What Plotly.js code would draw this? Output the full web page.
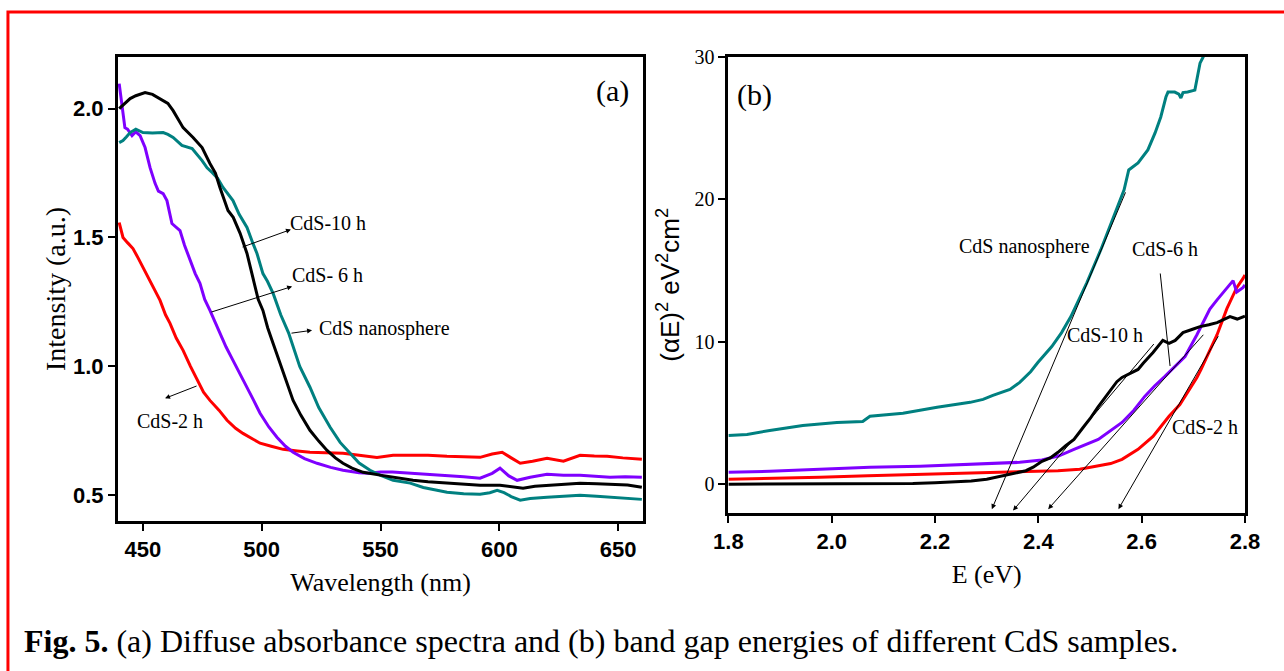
<!DOCTYPE html>
<html>
<head>
<meta charset="utf-8">
<script src="https://cdn.plot.ly/plotly-3.0.1.min.js"></script>
<style>html,body{margin:0;padding:0;background:#fff;}#chart{width:1284px;height:671px;}</style>
</head>
<body>
<div id="chart"></div>
<script>
// ---------- Panel (a): diffuse absorbance spectra ----------
const wl10 = [440,444.6,447,450.9,454,457.2,460.5,462.7,466.9,471.1,474.9,478.2,480.5,482.4,485.8,488,490.9,493.8,496.3,498.5,500.5,502.5,504.8,507,509,511,513.2,516.5,520.3,524,527.5,531,534.2,538,542.7,549.8,555.3,563.7,570,578,585,591.9,600.3,605,610,615,620.1,627,634,641,647.9,654,660];
const int10 = [2.00,2.039,2.05,2.062,2.055,2.039,2.02,1.992,1.926,1.888,1.849,1.787,1.75,1.694,1.605,1.578,1.516,1.438,1.345,1.26,1.217,1.15,1.089,1.03,0.973,0.92,0.868,0.81,0.752,0.71,0.674,0.645,0.624,0.605,0.589,0.578,0.57,0.558,0.552,0.547,0.543,0.539,0.539,0.533,0.527,0.535,0.539,0.543,0.547,0.545,0.543,0.54,0.531];

const wlNano = [440,441.6,443,444.6,447,450,454,458.5,460.5,462.7,466.4,468.5,470.7,474.9,477,479.1,481.4,483.7,487.9,490.5,493.8,496.3,498,500.5,502.4,504.8,508,511.3,512.8,516,520.3,524,528.8,533,537.2,541,545.6,549.8,555.3,562.5,568,573,578,585,591.9,596,599.1,602,605,608.8,613,620.1,627,634,641,647.9,654,660];
const intNano = [1.868,1.876,1.89,1.907,1.92,1.907,1.905,1.907,1.90,1.888,1.857,1.85,1.845,1.798,1.77,1.752,1.73,1.694,1.643,1.59,1.539,1.477,1.438,1.36,1.33,1.283,1.20,1.13,1.089,1.0,0.919,0.84,0.764,0.705,0.663,0.625,0.597,0.578,0.558,0.547,0.53,0.52,0.512,0.506,0.504,0.51,0.519,0.51,0.495,0.481,0.487,0.492,0.496,0.5,0.496,0.492,0.488,0.484];

const wl2 = [440,441.6,443.5,445.8,448,450,453,455,457.2,459.5,461.4,464,466.9,470,472.8,475.5,478.2,482,485.4,489,492.1,496,499.3,504,509,515,520.3,527,534.2,541,548.5,555.3,563.7,570,578,585,591.9,597,601.2,605,608.8,614,620.1,627,634,640,645.4,652,660];
const int2 = [1.558,1.50,1.48,1.457,1.42,1.384,1.33,1.30,1.256,1.20,1.167,1.11,1.062,1.00,0.946,0.90,0.868,0.83,0.791,0.76,0.74,0.72,0.702,0.69,0.678,0.672,0.667,0.665,0.663,0.655,0.647,0.655,0.655,0.655,0.651,0.649,0.647,0.66,0.667,0.645,0.624,0.632,0.643,0.632,0.655,0.652,0.651,0.645,0.64];

const wl6 = [440,441.2,442.4,443.5,445.4,447,448.8,450.9,453,455.1,456.5,458.5,460.1,462.2,465.6,467.5,469.8,472,474,476,478.2,480.5,482.4,485,487.9,491,493.8,496.5,499.3,503,506.4,510,513.2,518,523.3,529,534.2,541,545,550,555,563.7,570,578,585,591.9,597,600.3,604,607.5,613,620.1,627,634,640,646.6,653,660];
const int6 = [2.097,2.004,1.926,1.92,1.895,1.91,1.895,1.849,1.771,1.71,1.68,1.67,1.643,1.554,1.527,1.47,1.411,1.36,1.322,1.26,1.217,1.17,1.128,1.075,1.023,0.97,0.919,0.87,0.818,0.765,0.725,0.69,0.667,0.642,0.624,0.608,0.597,0.587,0.585,0.59,0.59,0.585,0.58,0.578,0.572,0.566,0.585,0.605,0.575,0.558,0.57,0.581,0.578,0.578,0.574,0.57,0.572,0.57];

// ---------- Panel (b): (alpha E)^2 vs E ----------
const eNano = [1.80,1.836,1.88,1.944,2.01,2.06,2.074,2.138,2.204,2.268,2.293,2.312,2.345,2.364,2.385,2.399,2.426,2.445,2.463,2.494,2.521,2.546,2.566,2.575,2.593,2.612,2.626,2.637,2.647,2.651,2.664,2.672,2.676,2.68,2.689,2.703,2.709,2.713,2.719,2.722];
const aNano = [3.43,3.5,3.78,4.13,4.34,4.41,4.77,4.98,5.4,5.75,5.96,6.24,6.66,7.15,7.9,8.55,9.67,10.65,11.77,14.16,16.47,18.78,20.67,22.07,22.56,23.48,24.67,25.79,27.19,27.54,27.54,27.4,27.12,27.5,27.54,27.68,28.73,29.57,30.0,30.3];

const e10 = [1.80,1.9,2.0,2.1,2.157,2.2,2.235,2.27,2.3,2.34,2.376,2.39,2.407,2.423,2.438,2.453,2.469,2.487,2.5,2.515,2.531,2.552,2.562,2.58,2.593,2.603,2.622,2.641,2.653,2.665,2.68,2.7,2.713,2.73,2.746,2.771,2.785,2.8];
const a10 = [0.0,0.0,0.02,0.05,0.05,0.1,0.14,0.22,0.35,0.65,0.95,1.2,1.61,1.85,2.24,2.7,3.15,4.0,4.6,5.4,6.17,7.2,7.5,7.8,8.06,8.5,9.25,10.1,9.9,10.1,10.65,10.9,11.07,11.2,11.35,11.77,11.6,11.8];

const e6 = [1.80,1.88,1.977,2.074,2.171,2.268,2.364,2.407,2.44,2.469,2.516,2.562,2.585,2.606,2.625,2.645,2.665,2.684,2.707,2.72,2.732,2.746,2.765,2.777,2.784,2.796,2.8];
const a6 = [0.84,0.91,1.05,1.19,1.26,1.4,1.54,1.7,2.0,2.45,3.15,4.34,5.2,6.17,6.9,7.57,8.3,8.97,10.5,11.5,12.3,12.95,13.8,14.3,13.5,13.8,14.0];

const e2 = [1.80,1.9,1.977,2.07,2.171,2.3,2.364,2.438,2.48,2.516,2.54,2.562,2.593,2.622,2.653,2.674,2.684,2.707,2.715,2.738,2.746,2.765,2.784,2.796,2.8];
const a2 = [0.35,0.42,0.49,0.6,0.7,0.84,0.91,0.95,1.05,1.26,1.45,1.75,2.45,3.36,4.77,5.6,6.17,7.5,8.06,9.95,10.5,12.33,13.8,14.44,14.7];

const caption = '<b>Fig. 5.</b> (a) Diffuse absorbance spectra and (b) band gap energies of different CdS samples.';

const TEAL = '#008080', PURPLE = '#7f00ff', RED = '#ff0000', BLACK = '#000000';
const SERIF = 'Liberation Serif, Times New Roman, serif';
const NARROW = 'Liberation Sans Narrow, Arial Narrow, Liberation Sans, Arial, sans-serif';
const SANS = 'Liberation Sans, Arial, sans-serif';

function tr(x, y, color, xa, ya, name) {
  return {x: x, y: y, type: 'scatter', mode: 'lines', name: name,
    line: {color: color, width: 3}, xaxis: xa, yaxis: ya, hoverinfo: 'skip'};
}

const data = [
  tr(wl2, int2, RED, 'x', 'y', 'CdS-2 h'),
  tr(wl6, int6, PURPLE, 'x', 'y', 'CdS-6 h'),
  tr(wlNano, intNano, TEAL, 'x', 'y', 'CdS nanosphere'),
  tr(wl10, int10, BLACK, 'x', 'y', 'CdS-10 h'),
  tr(eNano, aNano, TEAL, 'x2', 'y2', 'CdS nanosphere'),
  tr(e2, a2, RED, 'x2', 'y2', 'CdS-2 h'),
  tr(e6, a6, PURPLE, 'x2', 'y2', 'CdS-6 h'),
  tr(e10, a10, BLACK, 'x2', 'y2', 'CdS-10 h')
];

const axBase = {
  showline: true, linewidth: 3, linecolor: '#000', mirror: true,
  ticks: 'outside', ticklen: 7, tickwidth: 2, tickcolor: '#000',
  showgrid: false, zeroline: false, automargin: false
};
const boldTick = {family: NARROW, size: 22, color: '#000', weight: 'bold'};

function lab(x, y, t, xr, yr, size) {
  return {x: x, y: y, xref: xr, yref: yr, text: t, showarrow: false,
    font: {family: SERIF, size: size || 20, color: '#000'}};
}
function arr(x, y, ax, ay, xr, yr) {
  return {x: x, y: y, ax: ax, ay: ay, xref: xr, yref: yr, axref: xr, ayref: yr,
    text: '', showarrow: true, arrowhead: 2, arrowsize: 1, arrowwidth: 1, arrowcolor: '#000', standoff: 0, startstandoff: 0};
}

const layout = {
  width: 1284, height: 671,
  margin: {l: 0, r: 0, t: 0, b: 0},
  paper_bgcolor: '#fff', plot_bgcolor: '#fff',
  showlegend: false,
  xaxis: Object.assign({}, axBase, {
    domain: [0.0919, 0.5008], range: [439.5, 660.5], anchor: 'y',
    tickvals: [450, 500, 550, 600, 650], tickfont: boldTick,
    title: {text: 'Wavelength (nm)', font: {family: SERIF, size: 26, color: '#000'}, standoff: 12}
  }),
  yaxis: Object.assign({}, axBase, {
    domain: [0.2235, 0.915], range: [0.4, 2.2], anchor: 'x',
    tickvals: [0.5, 1.0, 1.5, 2.0], tickformat: '.1f', tickfont: boldTick,
    title: {text: 'Intensity (a.u.)', font: {family: SERIF, size: 28, color: '#000'}, standoff: 0}
  }),
  xaxis2: Object.assign({}, axBase, {
    domain: [0.5673, 0.9696], range: [1.8, 2.8], anchor: 'y2',
    tickvals: [1.8, 2.0, 2.2, 2.4, 2.6, 2.8], tickformat: '.1f', tickfont: boldTick,
    title: {text: 'E (eV)', font: {family: SERIF, size: 26, color: '#000'}, standoff: 12}
  }),
  yaxis2: Object.assign({}, axBase, {
    domain: [0.2359, 0.915], range: [-2, 30], anchor: 'x2',
    tickvals: [0, 10, 20, 30], tickfont: {family: SERIF, size: 20, color: '#000'},
    title: {text: '(αE)<sup>2</sup> eV<sup>2</sup>cm<sup>2</sup>', font: {family: SANS, size: 26, color: '#000'}, standoff: 8}
  }),
  shapes: [
    {type: 'rect', xref: 'paper', yref: 'paper', x0: 0.0062, x1: 1.02, y0: -0.02, y1: 0.982,
      line: {color: '#ff0000', width: 3}, fillcolor: 'rgba(0,0,0,0)', layer: 'below'},
    {type: 'line', xref: 'x2', yref: 'y2', x0: 2.636, y0: 14.8, x1: 2.655, y1: 8.3,
      line: {color: '#000', width: 1}}
  ],
  annotations: [
    lab(647.5, 2.07, '(a)', 'x', 'y', 30),
    lab(528, 1.558, 'CdS-10 h', 'x', 'y'),
    lab(527.5, 1.353, 'CdS- 6 h', 'x', 'y'),
    lab(551.5, 1.147, 'CdS nanosphere', 'x', 'y'),
    lab(461.4, 0.787, 'CdS-2 h', 'x', 'y'),
    arr(512.3, 1.531, 491.3, 1.461, 'x', 'y'),
    arr(512.8, 1.31, 478.2, 1.209, 'x', 'y'),
    arr(521.2, 1.14, 511.9, 1.128, 'x', 'y'),
    arr(459.3, 0.876, 473.2, 0.926, 'x', 'y'),

    lab(1.851, 27.3, '(b)', 'x2', 'y2', 30),
    lab(2.374, 16.68, 'CdS nanosphere', 'x2', 'y2'),
    lab(2.645, 16.5, 'CdS-6 h', 'x2', 'y2'),
    lab(2.529, 10.5, 'CdS-10 h', 'x2', 'y2'),
    lab(2.723, 4.0, 'CdS-2 h', 'x2', 'y2'),
    arr(2.31, -1.75, 2.57, 20.6, 'x2', 'y2'),
    arr(2.351, -1.85, 2.626, 9.95, 'x2', 'y2'),
    arr(2.419, -1.75, 2.722, 10.6, 'x2', 'y2'),
    arr(2.555, -1.75, 2.75, 10.5, 'x2', 'y2'),

    {x: 22/1284, y: 1 - 641/671, xref: 'paper', yref: 'paper', xanchor: 'left', yanchor: 'middle',
      text: caption, showarrow: false, font: {family: SERIF, size: 32, color: '#000'}}
  ]
};

Plotly.newPlot('chart', data, layout, {displayModeBar: false, staticPlot: true});
</script>
</body>
</html>
